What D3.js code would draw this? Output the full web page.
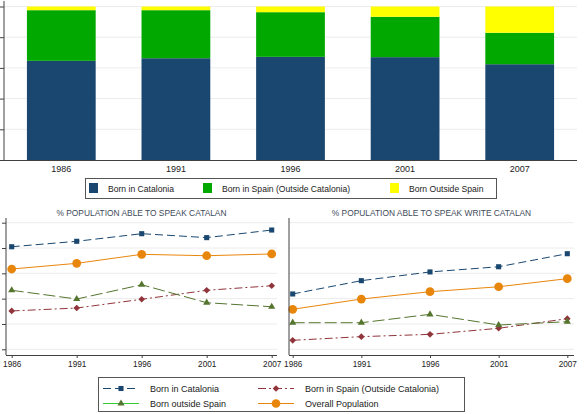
<!DOCTYPE html>
<html>
<head>
<meta charset="utf-8">
<script src="https://cdn.jsdelivr.net/npm/d3@7"></script>
<style>
  body { margin: 0; background: #fff; }
  svg { display: block; font-family: "Liberation Sans", Arial, sans-serif; }
</style>
</head>
<body>
<div class="canvas"></div>
<script>
const svgWidth = 584;
const svgHeight = 414;

// composition of population by place of birth (%)
const years = ['1986', '1991', '1996', '2001', '2007'];
const bornCatalonia = [64.6, 66.3, 67.2, 67.0, 62.4];
const bornSpain = [33.0, 31.3, 29.1, 26.3, 20.5];
const bornAbroad = [2.4, 2.4, 3.7, 6.7, 17.1];
const shareTicks = [0, 20, 40, 60, 80, 100];

// % able to speak catalan
const speakCatalonia = [81.0, 85.3, 91.3, 88.2, 94.2];
const speakSpain = [30.3, 32.6, 39.5, 46.6, 50.2];
const speakAbroad = [46.6, 39.7, 51.0, 36.8, 33.6];
const speakOverall = [63.4, 67.9, 75.0, 73.9, 75.3];

// % able to speak and write catalan
const writeCatalonia = [43.7, 54.2, 61.1, 65.2, 75.5];
const writeSpain = [7.1, 10.0, 11.8, 16.6, 24.2];
const writeAbroad = [21.0, 21.0, 27.6, 19.2, 21.8];
const writeOverall = [31.6, 39.7, 45.5, 49.4, 55.8];

const pctTicks = [0, 20, 40, 60, 80, 100];

const svg = d3.select('.canvas')
    .append('svg')
        .attr('width', svgWidth)
        .attr('height', svgHeight);

const axisColor = '#404040';
const gridColor = '#ececec';

// ---------- top stacked bars ----------
const barColors = ['#1a476f', '#00a800', '#ffff00'];
const barNames = ['Born in Catalonia', 'Born in Spain (Outside Catalonia)', 'Born Outside Spain'];

const barRows = years.map((yr, i) => ({
    year: yr, cat: bornCatalonia[i], spa: bornSpain[i], abr: bornAbroad[i]
}));

const xBar = d3.scaleBand().domain(years).range([4, 577]).paddingInner(0.4).paddingOuter(0.2);
const yBar = d3.scaleLinear().domain([0, 100]).range([160, 6.5]);

const barGroup = svg.append('g');

barGroup.append('g')
    .selectAll('line')
    .data(shareTicks.slice(1))
    .enter().append('line')
        .attr('x1', 4).attr('x2', 577)
        .attr('y1', d => yBar(d)).attr('y2', d => yBar(d))
        .attr('stroke', gridColor).attr('stroke-width', 1);

const stack = d3.stack().keys(['cat', 'spa', 'abr']);
barGroup.selectAll('g.layer')
    .data(stack(barRows))
    .enter().append('g')
        .attr('class', 'layer')
        .attr('fill', (d, i) => barColors[i])
    .selectAll('rect')
    .data(d => d)
    .enter().append('rect')
        .attr('x', d => xBar(d.data.year))
        .attr('width', xBar.bandwidth())
        .attr('y', d => yBar(d[1]))
        .attr('height', d => yBar(d[0]) - yBar(d[1]));

const barYAxis = barGroup.append('g')
    .attr('transform', 'translate(4,0)')
    .call(d3.axisLeft(yBar).tickValues(shareTicks).tickSize(4).tickFormat(''));
barYAxis.select('.domain').remove();
barYAxis.selectAll('line').attr('stroke', axisColor);
barGroup.append('line').attr('x1', 4).attr('x2', 4).attr('y1', 1).attr('y2', 160)
    .attr('stroke', axisColor);

const barXAxis = barGroup.append('g')
    .attr('transform', 'translate(0,160)')
    .call(d3.axisBottom(xBar).tickSize(0).tickPadding(6));
barXAxis.select('.domain').attr('d', 'M4,0.5H577').attr('stroke', axisColor);
barXAxis.selectAll('text')
    .attr('font-size', 9)
    .attr('font-family', '"Liberation Sans", Arial, sans-serif')
    .attr('fill', '#222');

// top legend
const barLegend = svg.append('g');
barLegend.append('rect')
    .attr('x', 85.5).attr('y', 178.5).attr('width', 411).attr('height', 20)
    .attr('fill', '#fff').attr('stroke', '#555');
const barLegendX = [89, 203, 390];
barNames.forEach((name, i) => {
    barLegend.append('rect')
        .attr('x', barLegendX[i]).attr('y', 183)
        .attr('width', 9).attr('height', 10)
        .attr('fill', barColors[i]);
    barLegend.append('text')
        .attr('x', barLegendX[i] + 19).attr('y', 191.5)
        .attr('font-size', 8.6).attr('fill', '#222')
        .text(name);
});

// ---------- bottom line panels ----------
const lineSeries = [
    { name: 'Born in Catalonia', color: '#1a476f', dash: '8,4', marker: 'square' },
    { name: 'Born in Spain (Outside Catalonia)', color: '#90353b', dash: '8,3,2,3', marker: 'diamond' },
    { name: 'Born outside Spain', color: '#55752f', dash: '12,4', marker: 'triangle',
      legendLine: '#33cc33', legendDash: null },
    { name: 'Overall Population', color: '#e8860c', dash: null, marker: 'circle' }
];

const markerSym = {
    square: d3.symbol().type(d3.symbolSquare).size(26),
    diamond: d3.symbol().type(d3.symbolSquare).size(22),
    triangle: d3.symbol().type(d3.symbolTriangle).size(22),
    circle: d3.symbol().type(d3.symbolCircle).size(60)
};
const markerRot = { diamond: 45 };

const yLine = d3.scaleLinear().domain([-4.5, 103.7]).range([355, 218]);

function drawPanel(axisX, x0, x1, xEnd, title, values, showYTicks) {
    const g = svg.append('g');
    const x = d3.scalePoint().domain(years).range([x0, x1]);

    g.append('g').selectAll('line')
        .data(pctTicks)
        .enter().append('line')
            .attr('x1', axisX).attr('x2', xEnd)
            .attr('y1', d => yLine(d)).attr('y2', d => yLine(d))
            .attr('stroke', gridColor);

    g.append('text')
        .attr('x', (axisX + xEnd) / 2).attr('y', 215.5)
        .attr('text-anchor', 'middle')
        .attr('font-size', 8.4).attr('fill', '#3e4a5a')
        .text(title);

    const line = d3.line()
        .x((d, i) => x(years[i]))
        .y(d => yLine(d));

    values.forEach((vals, k) => {
        const s = lineSeries[k];
        g.append('path')
            .datum(vals)
            .attr('fill', 'none')
            .attr('stroke', s.color)
            .attr('stroke-width', 1)
            .attr('stroke-dasharray', s.dash)
            .attr('d', line);
        g.selectAll('path.m' + k)
            .data(vals)
            .enter().append('path')
                .attr('class', 'm' + k)
                .attr('transform', (d, i) =>
                    `translate(${x(years[i])},${yLine(d)}) rotate(${markerRot[s.marker] || 0})`)
                .attr('d', markerSym[s.marker])
                .attr('fill', s.color);
    });

    // axes
    const yAx = g.append('g')
        .attr('transform', `translate(${axisX},0)`)
        .call(d3.axisLeft(yLine).tickValues(pctTicks).tickSize(showYTicks ? 4 : 0).tickFormat(''));
    yAx.select('.domain').remove();
    yAx.selectAll('line').attr('stroke', axisColor);
    g.append('line').attr('x1', axisX).attr('x2', axisX).attr('y1', 218).attr('y2', 355)
        .attr('stroke', axisColor);

    const xAx = g.append('g')
        .attr('transform', 'translate(0,355)')
        .call(d3.axisBottom(x).tickSize(3).tickPadding(3));
    xAx.select('.domain').attr('d', `M${axisX},0.5H${xEnd}`).attr('stroke', axisColor);
    xAx.selectAll('line').attr('stroke', axisColor);
    xAx.selectAll('text')
        .attr('font-size', 8.2)
        .attr('font-family', '"Liberation Sans", Arial, sans-serif')
        .attr('fill', '#222');
}

drawPanel(6, 11.7, 271.7, 277, '% POPULATION ABLE TO SPEAK CATALAN',
    [speakCatalonia, speakSpain, speakAbroad, speakOverall], true);
drawPanel(289, 292.7, 567.3, 574, '% POPULATION ABLE TO SPEAK WRITE CATALAN',
    [writeCatalonia, writeSpain, writeAbroad, writeOverall], false);

// bottom legend
const lineLegend = svg.append('g');
lineLegend.append('rect')
    .attr('x', 98.5).attr('y', 377.5).attr('width', 366).attr('height', 34)
    .attr('fill', '#fff').attr('stroke', '#555');
const legendPos = [
    { x: 103, y: 388.5 }, { x: 258, y: 388.5 },
    { x: 103, y: 403.5 }, { x: 258, y: 403.5 }
];
lineSeries.forEach((s, k) => {
    const p = legendPos[k];
    lineLegend.append('line')
        .attr('x1', p.x).attr('x2', p.x + 36)
        .attr('y1', p.y).attr('y2', p.y)
        .attr('stroke', s.legendLine || s.color)
        .attr('stroke-dasharray', s.legendDash !== undefined ? s.legendDash : s.dash);
    lineLegend.append('path')
        .attr('transform', `translate(${p.x + 18},${p.y}) rotate(${markerRot[s.marker] || 0})`)
        .attr('d', markerSym[s.marker])
        .attr('fill', s.color);
    lineLegend.append('text')
        .attr('x', p.x + 47).attr('y', p.y + 3.3)
        .attr('font-size', 9).attr('fill', '#222')
        .text(s.name);
});
</script>
</body>
</html>
